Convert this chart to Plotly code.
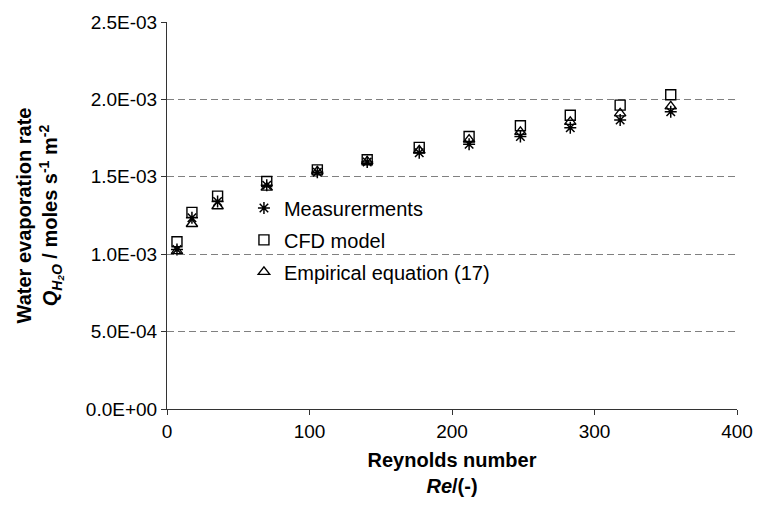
import plotly.graph_objects as go

re_vals = [7, 17.5, 35.5, 70, 105.5, 140.5, 177, 212, 248, 283, 318, 353.5]
measurements = [1.03e-3, 1.235e-3, 1.34e-3, 1.445e-3, 1.53e-3, 1.595e-3, 1.655e-3, 1.71e-3, 1.76e-3, 1.817e-3, 1.867e-3, 1.92e-3]
cfd_model = [1.08e-3, 1.27e-3, 1.375e-3, 1.47e-3, 1.545e-3, 1.61e-3, 1.69e-3, 1.76e-3, 1.83e-3, 1.898e-3, 1.963e-3, 2.03e-3]
empirical = [1.02e-3, 1.195e-3, 1.31e-3, 1.43e-3, 1.535e-3, 1.60e-3, 1.67e-3, 1.74e-3, 1.79e-3, 1.855e-3, 1.91e-3, 1.955e-3]

y_tickvals = [0, 0.5e-3, 1.0e-3, 1.5e-3, 2.0e-3, 2.5e-3]
y_ticktext = ["0.0E+00", "5.0E-04", "1.0E-03", "1.5E-03", "2.0E-03", "2.5E-03"]
x_tickvals = [0, 100, 200, 300, 400]

FONT = "Liberation Sans, Arial, sans-serif"

fig = go.Figure()
fig.add_trace(go.Scatter(x=re_vals, y=measurements, mode="markers", name="Measurerments",
                         legendgroup="a",
                         marker=dict(symbol="asterisk-open", size=10, color="black",
                                     line=dict(color="black", width=1.5))))
fig.add_trace(go.Scatter(x=re_vals, y=cfd_model, mode="markers", name="CFD model",
                         legendgroup="b",
                         marker=dict(symbol="square-open", size=10, color="black",
                                     line=dict(color="black", width=1.4))))
fig.add_trace(go.Scatter(x=re_vals, y=empirical, mode="markers", name="Empirical equation (17)",
                         legendgroup="c",
                         marker=dict(symbol="triangle-up-open", size=10, color="black",
                                     line=dict(color="black", width=1.4))))

fig.update_layout(
    width=765, height=506,
    margin=dict(l=167, r=20, t=19, b=97),
    paper_bgcolor="white", plot_bgcolor="white",
    font=dict(family=FONT, size=19, color="black"),
    showlegend=True,
    legend=dict(x=0.135, y=0.57, xanchor="left", yanchor="top",
                bgcolor="rgba(0,0,0,0)", font=dict(size=20, family=FONT),
                itemwidth=30, traceorder="grouped", tracegroupgap=3),
    xaxis=dict(range=[0, 400], tickvals=x_tickvals, showgrid=False, zeroline=False,
               showline=True, linecolor="#333", linewidth=1, ticks="outside",
               ticklen=5, tickcolor="#333", tickfont=dict(size=19),
               title=dict(text="<b>Reynolds number<br><i>Re</i>/(-)</b>",
                          font=dict(size=20, family=FONT), standoff=12)),
    yaxis=dict(range=[0, 2.5e-3], tickvals=y_tickvals, ticktext=y_ticktext,
               showgrid=True, gridcolor="#808080", griddash="7px,4px", gridwidth=1,
               zeroline=False, showline=True, linecolor="#333", linewidth=1,
               ticks="outside", ticklen=5, tickcolor="#333", tickfont=dict(size=19),
               title=dict(text="<b>Water evaporation rate<br><i>Q<sub>H<sub>2</sub>O</sub></i> / moles s<sup>-1</sup> m<sup>-2</sup></b>",
                          font=dict(size=20, family=FONT), standoff=22)),
)

fig.write_html("out.html")
